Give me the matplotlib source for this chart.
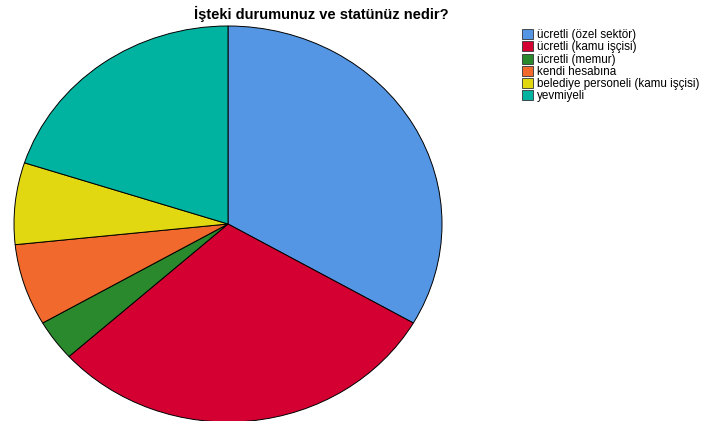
import matplotlib.pyplot as plt
from matplotlib.patches import Patch

# ── Data ──────────────────────────────────────────────────────────────────────
labels = ['ücretli (özel sektör)', 'ücretli (kamu işçisi)', 'ücretli (memur)',
          'kendi hesabına', 'belediye personeli (kamu işçisi)', 'yevmiyeli']
counts = [10, 9, 1, 2, 2, 6]
colors = ['#5496E4', '#D50032', '#2A892C', '#F1692C', '#E2D811', '#00B3A0']

plt.rcParams['font.family'] = ['Liberation Sans', 'DejaVu Sans']

fig = plt.figure(figsize=(7.04, 4.21), dpi=100)
W, H = 704, 421

# pie axes: slightly elliptical like the SPSS output
ax = fig.add_axes([14 / W, (H - 422) / H, 428 / W, 396 / H])
ax.pie(counts, colors=colors, startangle=90, counterclock=False,
       wedgeprops=dict(edgecolor='black', linewidth=0.7))
ax.set_aspect('auto')
ax.set_xlim(-1, 1)
ax.set_ylim(-1, 1)
ax.axis('off')

fig.text(321 / W, 1 - 14 / H, 'İşteki durumunuz ve statünüz nedir?',
         ha='center', va='center', fontsize=10.5, fontweight='bold')

handles = [Patch(facecolor=c, edgecolor='#333333', linewidth=0.6) for c in colors]
fig.legend(handles, labels, loc='upper left', bbox_to_anchor=(522 / W, 1 - 29 / H),
           frameon=False, fontsize=8.4, handlelength=0.95, handleheight=0.95,
           handletextpad=0.3, labelspacing=0.02, borderpad=0, borderaxespad=0)

plt.savefig('out.png', dpi=100)
